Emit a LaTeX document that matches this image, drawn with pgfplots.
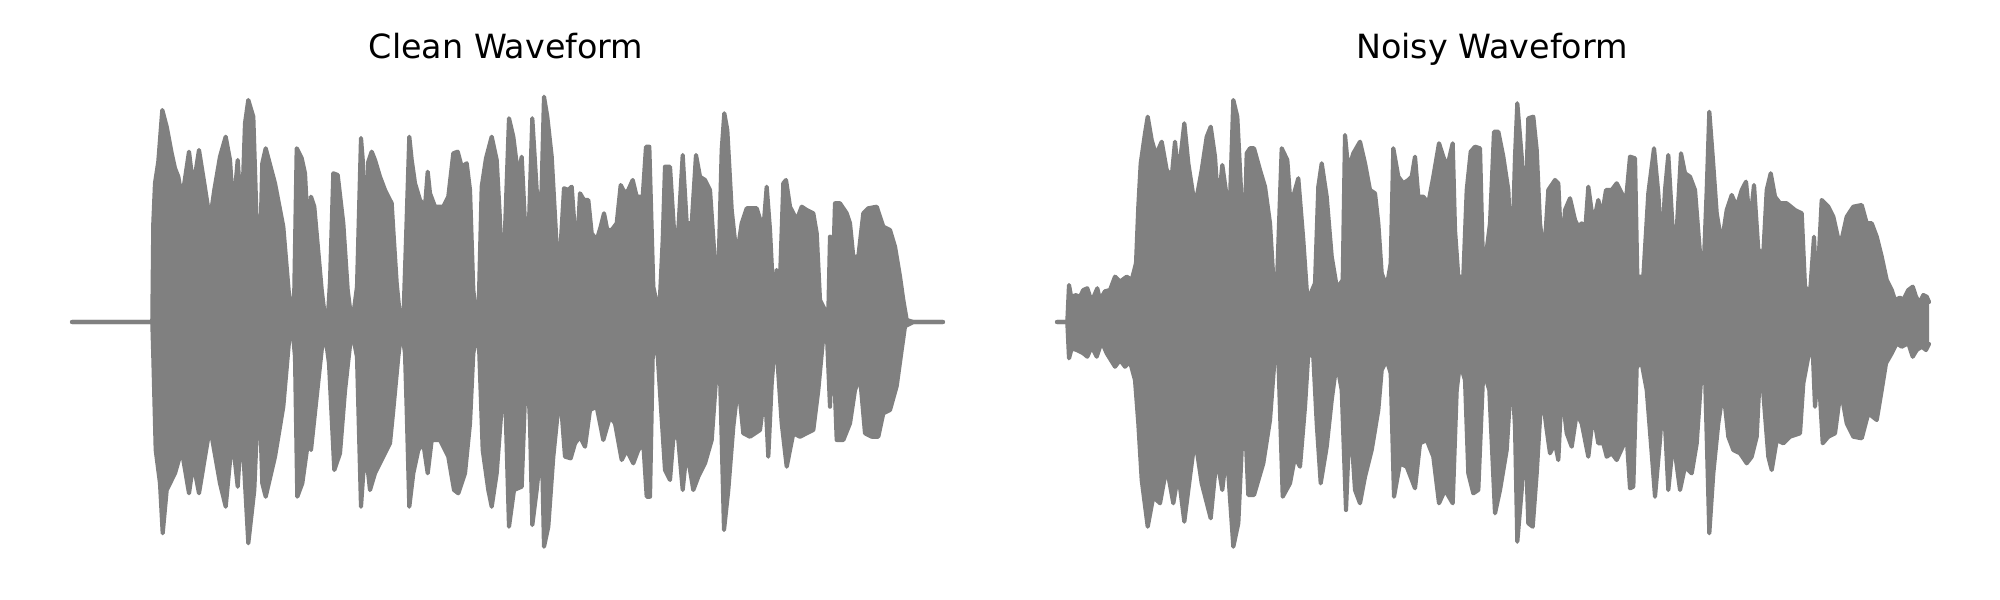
\documentclass[border=0pt]{standalone}
\usepackage{pgfplots}
\pgfplotsset{compat=1.18}
\usepackage{pgfplotstable}
\usepgfplotslibrary{fillbetween}
\usepackage{fontspec}
\setmainfont{DejaVu Sans}
\definecolor{wave}{HTML}{808080}

% Envelope of the waveforms: x = sample position, y = amplitude (upper / lower envelope)
\pgfplotstableread{
x y
72 0
151 0
152.3 0
153.3 98.7
155 138.7
158.3 160.3
162.3 212
166.7 195.3
171.7 168.7
175 153.7
178.3 145.3
181.7 125.3
184.3 138.7
189 170.3
193.3 135.3
199 172
204.3 138.7
210 102
214.3 132
220 165.3
225.7 185.3
230 162
233.3 112
237.7 162
241.7 102
245 198.7
248.3 222
253.3 205.3
256.7 98.7
260 65.3
262.3 158.7
265.7 173.7
275 138.7
283.3 95.3
290 15.3
291.7 0
294.3 32
296.7 173.7
301.7 163.7
305 148.7
308.3 85.3
311 125.3
314.3 115.3
321.7 32
324.3 10.3
328.3 12
330 40.3
333.3 148.7
337.7 147
343.3 98.7
347.7 32
351 5.3
353.3 7
357 35.3
361 184
363.3 155
365 32
368.3 160.3
371.7 170.3
375 162
380 145.3
385 132
391.7 118.7
393.3 92
396.7 38.7
400 5.3
403.3 0
406 82
409.3 185.3
411.7 162
415 138.7
420 122
425 115.3
427.7 150.3
430 128.7
435 115.3
443.3 115.3
448.3 125.3
453.3 168.7
457.7 170.3
461.7 155.3
466.7 158.7
470 132
473.3 32
476.7 2
478.7 15.3
481.7 135.3
486 163.7
491.7 185.3
496.7 162
500 102
503.3 2
505 92
509 203.7
513.3 185.3
518.3 145.3
521.7 165.3
525 98.7
526.7 22
530 132
532.3 203.7
536.7 132
540.7 98.7
544 225.3
547.3 205.3
551.7 165.3
556.7 75.3
560 65.3
564 133.7
568.3 132
571.7 135.3
576.7 65.3
580 128.7
584 122
588.3 122
591.7 88.7
596.7 82
600.7 95.3
604 108.7
607.3 92
611.7 92
616.7 98.7
620.7 137
625 128.7
628.3 132
632.7 142
636.7 125.3
642.7 125.3
646 175.3
649.3 175.3
653.3 35.3
657 17
660 25.3
662.7 82
665 155.3
670 155.3
674 92
678.3 92
682.7 167
686.7 98.7
691.7 98.7
696 167
700 145.3
705 142
710 132
715 58.7
718.3 45.3
721.7 172
724.3 208.7
727.3 192
731.7 112
736.7 65.3
741.7 98.7
746.7 113.7
756.7 113.7
763.3 92
766.7 135.3
770 92
774 12
776.7 52
780 42
783.3 138.7
786 142
790 115.3
796.7 102
801.7 115.3
806.7 112
813.3 108.7
816.7 88.7
820 22
825 12
828.3 8.7
830 85.3
831.7 8.7
835 118.7
840 118.7
846.7 108.7
850 98.7
853.3 65.3
858.3 65.3
863.3 108.7
868.3 113.7
876.7 115.3
883.3 95.3
890 92
895 75.3
900 45.3
903.3 22
906.7 2
913.3 0
943 0
}\cleanU

\pgfplotstableread{
x y
72 0
151 0
152.3 0
153.3 -34.7
155.7 -128
160 -161.3
162.7 -211.3
166.7 -168
175 -151.3
181.7 -128
189 -171.3
193.3 -141.3
199 -171.3
210 -104.7
220 -161.3
225.7 -184.7
232.3 -114.7
237.7 -164.7
241.7 -101.3
248.3 -221.3
254.3 -168
259 -58
262.3 -161.3
265.7 -174.7
275 -134.7
283.3 -84.7
290 -8
292.3 -4.7
295 -34.7
297.3 -174.7
302.3 -161.3
308.3 -118
311 -128
321.7 -28
325 -11.3
329 -41.3
334.3 -148
340 -131.3
345 -68.7
351.7 -8
357 -34.7
361 -184.7
363.3 -151.3
366.7 -138
370 -168
375 -151.3
383.3 -134.7
390 -121.3
393.3 -88
398.3 -34.7
401.7 -6.3
405 -31.3
406.7 -88
409.3 -184.7
413.3 -151.3
418.3 -128
423.3 -121.3
427.7 -151.3
431.7 -118
440 -118
448.3 -134.7
454 -168
458.3 -171.3
465 -151.3
470 -101.3
473.3 -31.3
477.3 -8
479.3 -31.3
482.7 -128
488.3 -168
491.7 -184.7
496.7 -151.3
501.7 -84.7
504 -8
505.7 -91.3
509 -204.7
514 -168
521.7 -164.7
526.7 -28
530 -101.3
532.3 -203
536.7 -168
541.7 -118
544 -224.7
548.3 -204.7
553.3 -134.7
560 -68.7
565 -134.7
570.7 -136.3
575 -121.3
580 -114.7
585 -124.7
590 -88
596.7 -84.7
603.3 -118
610 -94.7
615 -101.3
621.7 -138
626.7 -128
633.3 -141.3
638.3 -128
643.3 -121.3
646.7 -174.7
650 -174.7
652.7 -34.7
656.7 -18
660.7 -81.3
665 -148
670 -158
674 -108
678.3 -118
682.7 -168
686.7 -128
693.3 -168
698.3 -154.7
705 -141.3
711.7 -118
716.7 -48
720 -51.3
724 -208
728.3 -168
733.3 -104.7
738.3 -61.3
743.3 -111.3
750 -114.7
760 -108
765 -68
768.3 -134.7
771.7 -61.3
776 -8
778.3 -51.3
781.7 -101.3
786.7 -144.7
793.3 -111.3
800 -114.7
806.7 -111.3
813.3 -108
818.3 -68
823.3 -14.7
826.7 -8
830 -84.7
832.7 -11.3
836.7 -118
843.3 -118
850 -101.3
855 -68
860 -54.7
865 -111.3
871.7 -114.7
878.3 -114.7
883.3 -91.3
890 -88
896.7 -64
901.7 -27.7
905 -4.3
913.3 0
943 0
}\cleanL

\pgfplotstableread{
x y
1057 0
1067.3 0
1069 37
1071.7 22
1075 27
1080 25.3
1083.3 32
1087.3 33.7
1090 25.3
1093.3 24.3
1097.3 33.7
1100 22
1105 30.7
1110 32
1115 45.3
1120 40.3
1126.7 45.3
1131.7 42
1136 58.7
1138.3 115.3
1140.7 158.7
1145 188.7
1147.7 205.3
1151.7 182
1156 167
1161.7 180.3
1166.7 152
1171.7 145.3
1175 180.3
1178.3 145.3
1184.3 198.7
1188.3 158.7
1195 115.3
1201.7 152
1206.7 185.3
1210.7 195.3
1215 165.3
1218.3 115.3
1222.3 157
1226.7 125.3
1230 122
1233.3 222
1237.3 205.3
1241.7 118.7
1244 72
1246.7 168.7
1250 173.7
1254 173.7
1260 152
1265 135.3
1270 98.7
1274 32
1276.7 32
1281.7 173.7
1287.3 162
1290.7 115.3
1295 132
1298.3 143.7
1303.3 82
1307.3 23.7
1310.7 28.7
1315 38.7
1318.3 135.3
1321.7 158.7
1326.7 125.3
1331.7 65.3
1336.7 35.3
1340 38
1342.7 42
1345 187
1348.3 152
1353.3 168.7
1360 180.3
1365 158.7
1370 132
1375 128.7
1378.3 98.7
1381.7 48.7
1386.7 35.3
1390.7 58.7
1393.3 173.7
1398.3 145.3
1403.3 138.7
1408.3 142
1411.7 145.3
1415 165.3
1418.3 125.3
1423.3 125.3
1428.3 118.7
1433.3 145.3
1439 178.7
1443.3 165.3
1447.3 155.3
1452.7 178.7
1455 92
1458.3 45.3
1463.3 45.3
1466.7 132
1470.7 170.3
1475 175.3
1480 173.7
1483.3 45.3
1490 98.7
1494 190.3
1498.3 190.3
1503.3 165.3
1508.3 132
1511.7 52
1515 165.3
1517.3 218.7
1521.7 165.3
1525 98.7
1528.3 203.7
1533.3 205.3
1536.7 172
1540 98.7
1544 65.3
1548.3 132
1555 142
1558.3 138.7
1561.7 65.3
1565 112
1570 123.7
1575 102
1578.3 95.3
1581.7 98.7
1585 88.7
1588.3 135.3
1593.3 98.7
1598.3 122
1601.7 105.3
1606 132
1611.7 132
1616.7 138.7
1621.7 128.7
1626 122
1630 165.3
1635 163.7
1637.3 45.3
1643.3 45.3
1648.3 128.7
1654 173.7
1658.3 128.7
1661.7 72
1665 132
1668.3 167
1672.7 92
1676.7 92
1681 168.7
1685 148.7
1690 145.3
1695 132
1700 68.7
1703.3 45.3
1706.7 132
1709.3 210.3
1712.7 165.3
1716.7 108.7
1721.7 78.7
1726.7 112
1731.7 127
1736.7 115.3
1741.7 132
1746 140.3
1750 98.7
1754 137
1758.3 72
1763.3 68.7
1766.7 132
1770.7 148.7
1775 125.3
1780 118.7
1786.7 118.7
1795 112
1801.7 108.7
1805 35.3
1810 28.7
1814 85.3
1816.7 25.3
1821.7 122
1828.3 115.3
1833.3 105.3
1840 75.3
1846.7 105.3
1853.3 115.3
1861.7 117
1866.7 98.7
1871.7 98.7
1876.7 85.3
1881.7 65.3
1886.7 42
1891.7 32
1895 22
1900 24.3
1903.3 22
1908.3 32
1912.7 35.3
1916 25.3
1919.3 18.7
1923.3 27
1926.7 25.3
1929 20
}\noisyU

\pgfplotstableread{
x y
1057 0
1067.3 0
1069 -36.3
1071.7 -26.3
1076.7 -28
1083.3 -31.3
1087.3 -34.7
1091.7 -24.7
1096.7 -34.7
1101.7 -19.7
1106.7 -31.3
1115 -44.7
1120 -38
1125 -44.7
1130 -39.7
1135 -58
1138.3 -101.3
1141.7 -158
1147.7 -204.7
1153.3 -174.7
1160 -181.3
1166.7 -144.7
1173.3 -181.3
1178.3 -151.3
1184.3 -199.7
1190 -154.7
1195 -116.3
1201.7 -161.3
1210.7 -196.3
1216.7 -134.7
1222.3 -168
1226.7 -128
1233.3 -224.7
1238.3 -201.3
1244 -78
1248.3 -173
1254 -173
1263.3 -141.3
1270 -98
1275 -31.3
1278.3 -34.7
1282.7 -174.7
1290 -161.3
1295 -134.7
1300 -144.7
1305 -84.7
1308.3 -31.3
1313.3 -34.7
1316.7 -101.3
1320.7 -161.3
1326.7 -124.7
1331.7 -78
1336.7 -40.3
1341.7 -68
1346 -188
1350 -91.3
1355 -168
1360 -181.3
1365 -154.7
1371.7 -128
1378.3 -88
1381.7 -48
1386.7 -38
1390.7 -51.3
1394 -174.7
1400 -141.3
1406.7 -144.7
1415 -166.3
1420 -121.3
1426.7 -118
1433.3 -134.7
1439 -181.3
1445 -168
1452.7 -181.3
1456.7 -68
1460 -41.3
1465 -58
1468.3 -151.3
1473.3 -171.3
1478.3 -168
1483.3 -48
1489.3 -68
1495 -191.3
1500 -168
1506.7 -128
1511.7 -48
1515 -104.7
1517.3 -219.7
1521.7 -168
1525 -104.7
1528.3 -201.3
1532.7 -204.7
1536.7 -151.3
1541.7 -68
1546.7 -108
1550 -131.3
1555 -121.3
1558.3 -138
1561.7 -68
1566.7 -111.3
1571.7 -124.7
1576.7 -91.3
1581.7 -101.3
1588.3 -134.7
1593.3 -91.3
1598.3 -121.3
1603.3 -121.3
1606.7 -134.7
1611.7 -131.3
1616.7 -138
1622.7 -124.7
1626 -104.7
1630 -166.3
1633.3 -164.7
1636.7 -44.7
1641.7 -41.3
1646.7 -68
1651.7 -131.3
1655 -174.7
1660 -118
1663.3 -69.7
1668.3 -168
1673.3 -118
1680 -168
1685 -144.7
1691.7 -151.3
1696.7 -121.3
1701.7 -48
1705 -51.3
1709.3 -211.3
1713.3 -151.3
1718.3 -101.3
1723.3 -68
1728.3 -114.7
1733.3 -128
1740 -131.3
1746.7 -141.3
1751.7 -134.7
1756.7 -114.7
1760.7 -34.7
1763.3 -71.3
1768.3 -134.7
1771.7 -148
1776.7 -118
1783.3 -121.3
1790 -114.7
1800 -111.3
1803.3 -61.3
1808.3 -34.7
1812.7 -28
1815 -84.7
1818.3 -44.7
1822.7 -121.3
1828.3 -114.7
1835 -111.3
1840.7 -68
1846.7 -101.3
1853.3 -114.7
1861.7 -116.3
1868.3 -91.3
1876.7 -98
1881.7 -68
1886 -41.3
1891.7 -31.3
1896.7 -21.3
1901.7 -24.7
1908.3 -21.3
1912.7 -34.7
1916.7 -28
1921.7 -24.7
1926 -28
1929 -22
}\noisyL

\pgfplotsset{
  wavestyle/.style={scale only axis, axis lines=none, ymin=-240, ymax=240,
    height=172.8pt, clip=false, anchor=south west},
  env/.style={draw=wave, line width=1.5pt, line join=round, line cap=round}
}

\begin{document}
\begin{tikzpicture}
\begin{axis}[wavestyle, at={(25.92pt,13.68pt)}, xmin=72, xmax=943, width=313.56pt]
\addplot[env, name path=cu] table {\cleanU};
\addplot[env, name path=cl] table {\cleanL};
\addplot[fill=wave, draw=none] fill between[of=cu and cl];
\end{axis}
\begin{axis}[wavestyle, at={(380.52pt,13.68pt)}, xmin=1057, xmax=1929, width=313.92pt]
\addplot[env, name path=nu] table {\noisyU};
\addplot[env, name path=nl] table {\noisyL};
\addplot[fill=wave, draw=none] fill between[of=nu and nl];
\end{axis}
\node[anchor=base, font=\fontsize{12}{14}\selectfont] at (182.2pt,195.0pt) {Clean Waveform};
\node[anchor=base, font=\fontsize{12}{14}\selectfont] at (537.1pt,195.0pt) {Noisy Waveform};
\pgfresetboundingbox
\path[use as bounding box] (0,0) rectangle (720pt,216pt);
\end{tikzpicture}
\end{document}
